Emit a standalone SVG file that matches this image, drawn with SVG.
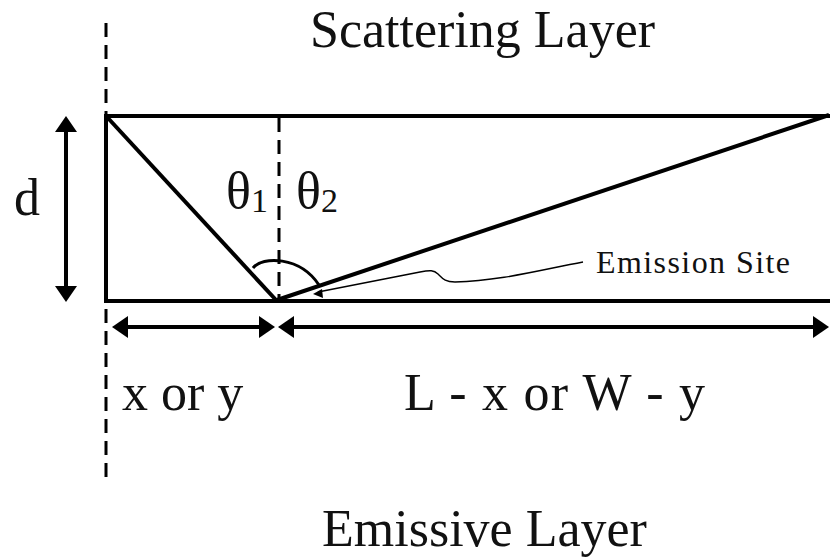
<svg xmlns="http://www.w3.org/2000/svg" width="830" height="558" viewBox="0 0 830 558">
<style>
.t{font-family:"Liberation Serif","Times New Roman",serif;fill:#111}
.big{font-size:52px}
.thick{stroke:#000;stroke-width:4;fill:none}
.dash{stroke:#000;stroke-width:3;fill:none;stroke-dasharray:14 8}
.arr{stroke:#000;stroke-width:4;fill:none;marker-start:url(#ah);marker-end:url(#ah)}
</style>
<defs>
<marker id="ah" markerUnits="userSpaceOnUse" markerWidth="16" markerHeight="22" refX="2" refY="11" orient="auto-start-reverse" viewBox="0 0 16 22">
<path d="M0,0 L16,11 L0,22 z" fill="#000"/>
</marker>
</defs>
<rect width="830" height="558" fill="#fff"/>
<g id="guides">
<line class="dash" x1="106" y1="23" x2="106" y2="480"/>
<line class="dash" x1="279" y1="118" x2="279" y2="300"/>
</g>
<g id="layer-box">
<polyline class="thick" points="832,116 106,116 106,301 832,301"/>
</g>
<g id="connectors">
<line class="thick" x1="107" y1="117" x2="276" y2="300"/>
<line class="thick" x1="277" y1="300" x2="829" y2="115"/>
<path d="M253,268 C262,256 300,256 319,285" stroke="#000" stroke-width="3" fill="none"/>
<path d="M318,292 L420,272 C430,270 434,270 438,274 C443,279 445,282 455,282 C500,281 540,270 583,262" stroke="#000" stroke-width="1.4" fill="none"/>
<polygon points="313,294 322,289 323,298" fill="#000"/>
<line class="arr" x1="66" y1="130" x2="66" y2="288"/>
<line class="arr" x1="126" y1="327" x2="261" y2="327"/>
<line class="arr" x1="292" y1="327" x2="815" y2="327"/>
</g>
<g id="labels">
<text class="t big" x="310" y="47">Scattering Layer</text>
<text class="t big" x="322" y="546">Emissive Layer</text>
<text class="t big" x="14" y="215">d</text>
<text class="t" font-size="52" x="226" y="208">θ<tspan font-size="34" dy="4">1</tspan></text>
<text class="t" font-size="52" x="296" y="208">θ<tspan font-size="34" dy="4">2</tspan></text>
<text class="t" font-size="32" x="596" y="273" textLength="194">Emission Site</text>
<text class="t big" x="122" y="410">x or y</text>
<text class="t big" x="404" y="410" textLength="301">L - x or W - y</text>
</g>
</svg>
